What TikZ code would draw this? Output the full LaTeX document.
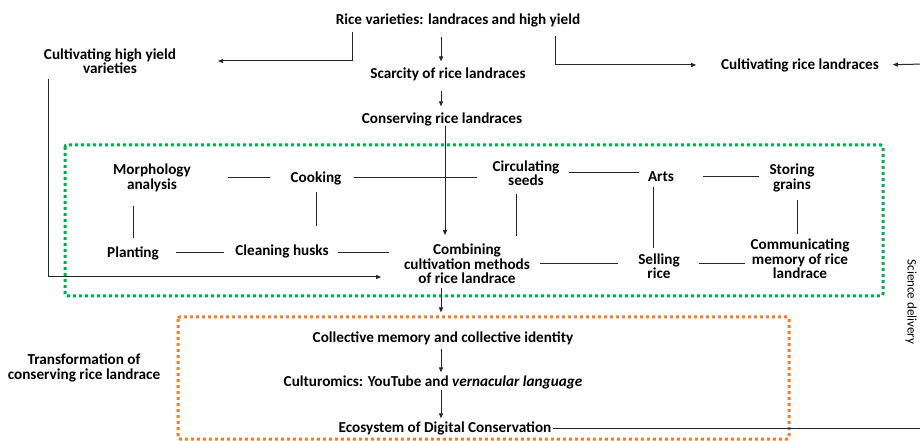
\documentclass[tikz,border=0pt]{standalone}
\usepackage{fontspec}
\setmainfont{Carlito}
\usetikzlibrary{arrows.meta}
\definecolor{boxgreen}{HTML}{00B050}
\definecolor{boxorange}{HTML}{ED7D31}
\tikzset{
  lbl/.style={font=\bfseries\fontsize{15.2bp}{14.5bp}\selectfont, align=center, inner sep=0pt, outer sep=0pt},
  arr/.style={-{Triangle[length=5bp,width=4bp]}, line width=1bp, draw=black!85},
  link/.style={line width=1bp, draw=black!85},
  dotbox/.style={line width=3bp, dash pattern=on 3bp off 3bp, rounded corners=2bp}
}

\begin{document}
\begin{tikzpicture}[x=1bp, y=-1bp]
  \useasboundingbox (0,0) rectangle (920,441);
  \clip (0,0) rectangle (920,441);

  \draw[dotbox, draw=boxgreen] (65,145) rectangle (883,296);
  \draw[dotbox, draw=boxorange] (178,317) rectangle (789,439);

  \node (rice) [lbl] at (458,20) {Rice varieties: landraces and high yield};
  \node (hyv) [lbl] at (110,61) {Cultivating high yield\\varieties};
  \node (scarce) [lbl] at (448,74) {Scarcity of rice landraces};
  \node (landr) [lbl] at (800,65) {Cultivating rice landraces};
  \node (conserve) [lbl] at (442,119) {Conserving rice landraces};

  \node (morph) [lbl] at (152,178) {Morphology\\analysis};
  \node (cook) [lbl] at (316,178) {Cooking};
  \node (circ) [lbl] at (526,173) {Circulating\\seeds};
  \node (arts) [lbl] at (661,177) {Arts};
  \node (store) [lbl] at (792,178) {Storing\\grains};
  \node (plant) [lbl] at (133,253) {Planting};
  \node (clean) [lbl] at (282,251) {Cleaning husks};
  \node (combine) [lbl] at (467,264) {Combining\\cultivation methods\\of rice landrace};
  \node (sell) [lbl] at (659,266) {Selling\\rice};
  \node (comm) [lbl] at (800,259) {Communicating\\memory of rice\\landrace};

  \node (collect) [lbl] at (443,338) {Collective memory and collective identity};
  \node (cultur) [lbl] at (433,382) {Culturomics: YouTube and \textit{vernacular language}};
  \node (eco) [lbl] at (445,428) {Ecosystem of Digital Conservation};
  \node (transf) [lbl] at (84,368) {Transformation of\\conserving rice landrace};
  \node (science) [lbl, font=\fontsize{13bp}{13bp}\selectfont, rotate=-90] at (911,302) {Science delivery};

  \coordinate (axis) at (441,0);
  \coordinate (rightin) at (925,64);
  \coordinate (rightout) at (925,428);

  \draw[arr, shorten <=10bp, shorten >=6bp] (axis |- rice.south) -- (axis |- scarce.north);
  \draw[arr, shorten <=10bp, shorten >=6bp] (axis |- scarce.south) -- (axis |- conserve.north);
  \draw[arr, shorten >=9bp] ([xshift=3bp]conserve.south) -- ([xshift=3bp]conserve.south |- combine.north);
  \draw[arr, shorten >=42bp] ([xshift=17bp, yshift=-5bp]rice.south west) |- (hyv.east);
  \draw[arr, shorten >=25bp] ([xshift=-25bp, yshift=-9bp]rice.south east) |- (landr.west);
  \draw[arr, shorten >=14bp] (rightin) -- (landr.east);
  \draw[arr, shorten >=23bp] ([xshift=5bp, yshift=-5bp]hyv.south west) |- ([yshift=-13bp]combine.west);
  \draw[arr, shorten <=4bp, shorten >=19bp] (axis |- combine.south) -- (axis |- collect.north);
  \draw[arr, shorten <=4bp, shorten >=3bp] (axis |- collect.south) -- (axis |- cultur.north);
  \draw[arr, shorten <=1bp, shorten >=3bp] (axis |- cultur.south) -- (axis |- eco.north);
  \draw[link, shorten <=2bp] (eco.east) -- (rightout);

  \draw[link, shorten <=37bp, shorten >=21bp] (morph.east |- cook) -- (cook.west);
  \draw[link, shorten <=13bp, shorten >=16bp] (cook.east) -- (cook.east -| circ.west);
  \draw[link, shorten <=10bp, shorten >=9bp] (circ.east) -- (circ.east -| arts.west);
  \draw[link, shorten <=29bp, shorten >=11bp] (arts.east) -- (arts.east -| store.west);
  \draw[link, shorten <=14bp, shorten >=8bp] (plant.north |- morph.south) -- (plant.north);
  \draw[link, shorten <=7bp, shorten >=18bp] (cook.south) -- (cook.south |- clean.north);
  \draw[link, shorten <=8bp, shorten >=8bp] ([xshift=-10bp]circ.south) -- ([xshift=-10bp]circ.south |- combine.north);
  \draw[link, shorten <=5bp, shorten >=5bp] ([xshift=-8bp]arts.south) -- ([xshift=-8bp]arts.south |- sell.north);
  \draw[link, shorten <=8bp, shorten >=5bp] ([xshift=5bp]store.south) -- ([xshift=5bp]store.south |- comm.north);
  \draw[link, shorten <=17bp, shorten >=11bp] (plant.east) -- (plant.east -| clean.west);
  \draw[link, shorten <=9bp, shorten >=15bp] ([yshift=-2bp]clean.east) -- ([yshift=-2bp]clean.east -| combine.west);
  \draw[link, shorten <=10bp, shorten >=20bp] (combine.east) -- (combine.east -| sell.west);
  \draw[link, shorten <=19bp, shorten >=6bp] (sell.east |- combine.east) -- (combine.east -| comm.west);
\end{tikzpicture}
\end{document}
